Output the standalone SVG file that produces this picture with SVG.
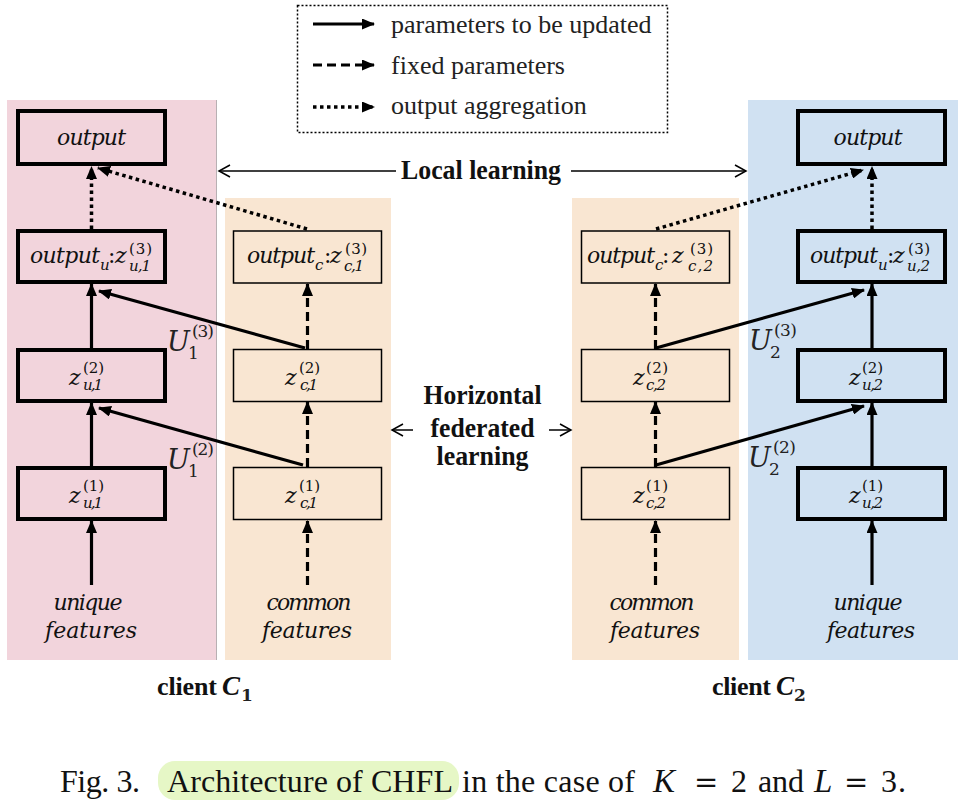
<svg xmlns="http://www.w3.org/2000/svg" width="962" height="811" viewBox="0 0 962 811">
<style>
.bg{stroke:none}
.thick{fill:none;stroke:#000;stroke-width:4}
.thin{fill:none;stroke:#000;stroke-width:1.5}
.m{font-family:"DejaVu Serif",serif;font-style:italic;font-size:22px;fill:#111}
.s{font-family:"DejaVu Serif",serif;font-style:italic;font-size:15px;fill:#111}
.sn{font-family:"DejaVu Serif",serif;font-size:15px;fill:#111}
.U{font-family:"DejaVu Serif",serif;font-style:italic;font-size:27px;fill:#222}
.Us{font-family:"DejaVu Serif",serif;font-size:17px;fill:#222}
.lg{font-family:"Liberation Serif",serif;font-size:26px;fill:#222}
.b{font-family:"Liberation Serif",serif;font-weight:bold;font-size:27px;fill:#111}
.cap{font-family:"Liberation Serif",serif;font-size:32px;fill:#111}
.capi{font-family:"Liberation Serif",serif;font-style:italic;font-size:33px;fill:#111}
.solid{fill:none;stroke:#000;stroke-width:3.2;marker-end:url(#ah)}
.dash{fill:none;stroke:#000;stroke-width:3.2;stroke-dasharray:9 5;marker-end:url(#ah)}
.dot{fill:none;stroke:#000;stroke-width:3.5;stroke-dasharray:3.5 3.5;marker-end:url(#ah)}
.open{fill:none;stroke:#000;stroke-width:1.5;marker-end:url(#oh)}
</style>
<defs>
<marker id="ah" markerUnits="userSpaceOnUse" markerWidth="13" markerHeight="11" refX="12" refY="5.5" orient="auto" viewBox="0 0 13 11">
<path d="M0,0 L13,5.5 L0,11 z" fill="#000"/>
</marker>
<marker id="oh" markerUnits="userSpaceOnUse" markerWidth="14" markerHeight="14" refX="12" refY="7" orient="auto" viewBox="0 0 14 14">
<path d="M1,1 L12,7 L1,13" fill="none" stroke="#000" stroke-width="1.5"/>
</marker>
</defs>
<rect width="962" height="811" fill="#fff"/>

<g id="panels">
<rect class="bg" x="7" y="100" width="209" height="560" fill="#f2d4dc"/>
<line x1="216.5" y1="100" x2="216.5" y2="660" stroke="#b8b0b3" stroke-width="1"/>
<rect class="bg" x="225" y="198" width="166" height="462" fill="#f9e6d2"/>
<rect class="bg" x="572" y="198" width="167" height="462" fill="#f9e6d2"/>
<rect class="bg" x="748" y="100" width="210" height="560" fill="#d0e1f2"/>
</g>

<g id="legend">
<rect x="297.5" y="5.5" width="370" height="127" fill="none" stroke="#000" stroke-width="1.5" stroke-dasharray="2 2"/>
<path class="solid" d="M313,24 L374,24"/>
<path class="dash" d="M313,65 L374,65"/>
<path class="dot" d="M313,107 L374,107"/>
<text class="lg" x="391" y="33">parameters to be updated</text>
<text class="lg" x="391" y="74">fixed parameters</text>
<text class="lg" x="391" y="114">output aggregation</text>
</g>

<g id="connectors">
<path class="dot" d="M91.5,229 L91.5,167"/>
<path class="dot" d="M307,229 L98,168"/>
<path class="solid" d="M91.5,349 L91.5,284"/>
<path class="solid" d="M305,348 L99,291"/>
<path class="dash" d="M307.5,349 L307.5,284"/>
<path class="solid" d="M91.5,467 L91.5,403"/>
<path class="solid" d="M303,465 L99,408"/>
<path class="dash" d="M307.5,467 L307.5,402"/>
<path class="solid" d="M91.5,585 L91.5,521"/>
<path class="dash" d="M307.5,585 L307.5,521"/>

<path class="dot" d="M872,229 L872,167"/>
<path class="dot" d="M656,229 L863,170"/>
<path class="solid" d="M872,349 L872,284"/>
<path class="solid" d="M656,348 L864,290"/>
<path class="dash" d="M655.5,349 L655.5,284"/>
<path class="solid" d="M872,467 L872,403"/>
<path class="solid" d="M656,465 L864,406"/>
<path class="dash" d="M655.5,467 L655.5,402"/>
<path class="solid" d="M872,585 L872,521"/>
<path class="dash" d="M655.5,585 L655.5,521"/>

<path class="open" d="M396,171 L219,171"/>
<path class="open" d="M571,171 L746,171"/>
<path class="open" d="M413,430 L392,430"/>
<path class="open" d="M549,430 L571,430"/>
</g>

<g id="out1">
<rect class="thick" x="18" y="111" width="147" height="53"/>
<text class="m" x="91.5" y="145" text-anchor="middle" textLength="69">output</text>
</g>
<g id="ou1">
<rect class="thick" x="18" y="231" width="147" height="51"/>
<text class="m" x="30" y="263" textLength="70">output</text>
<text class="s" x="100" y="270">u</text>
<text class="m" x="108" y="263" style="font-style:normal">:</text>
<text class="m" x="115" y="263">z</text>
<text class="sn" x="129" y="254" textLength="23">(3)</text>
<text class="s" x="129" y="271" textLength="22">u,1</text>
</g>
<g id="zu12">
<rect class="thick" x="18" y="350" width="147" height="51"/>
<text class="m" x="69" y="385">z</text>
<text class="sn" x="83" y="373" textLength="21">(2)</text>
<text class="s" x="83" y="390" textLength="20">u,1</text>
</g>
<g id="zu11">
<rect class="thick" x="18" y="468" width="147" height="51"/>
<text class="m" x="69" y="503">z</text>
<text class="sn" x="83" y="491" textLength="21">(1)</text>
<text class="s" x="83" y="508" textLength="20">u,1</text>
</g>
<g id="uf1">
<text class="m" x="88" y="610" text-anchor="middle" textLength="69">unique</text>
<text class="m" x="91" y="638" text-anchor="middle" textLength="92">features</text>
</g>

<g id="oc1">
<rect class="thin" x="233.5" y="231" width="148" height="52"/>
<text class="m" x="247" y="263" textLength="68">output</text>
<text class="s" x="315" y="270">c</text>
<text class="m" x="324" y="263" style="font-style:normal">:</text>
<text class="m" x="330" y="263">z</text>
<text class="sn" x="345" y="254" textLength="22">(3)</text>
<text class="s" x="344" y="271" textLength="20">c,1</text>
</g>
<g id="zc12">
<rect class="thin" x="233.5" y="349.5" width="148" height="52"/>
<text class="m" x="285" y="385">z</text>
<text class="sn" x="299" y="373" textLength="21">(2)</text>
<text class="s" x="300" y="390" textLength="18">c,1</text>
</g>
<g id="zc11">
<rect class="thin" x="233.5" y="467.5" width="148" height="52"/>
<text class="m" x="285" y="503">z</text>
<text class="sn" x="299" y="491" textLength="21">(1)</text>
<text class="s" x="300" y="508" textLength="18">c,1</text>
</g>
<g id="cf1">
<text class="m" x="309" y="610" text-anchor="middle" textLength="85">common</text>
<text class="m" x="307" y="638" text-anchor="middle" textLength="90">features</text>
</g>

<g id="U13">
<text class="U" x="167" y="351">U</text>
<text class="Us" x="192" y="337" textLength="22">(3)</text>
<text class="Us" x="188" y="359">1</text>
</g>
<g id="U12">
<text class="U" x="167" y="469">U</text>
<text class="Us" x="192" y="455" textLength="22">(2)</text>
<text class="Us" x="188" y="477">1</text>
</g>

<g id="oc2">
<rect class="thin" x="581.5" y="231" width="148" height="52"/>
<text class="m" x="587" y="263" textLength="68">output</text>
<text class="s" x="655" y="270">c</text>
<text class="m" x="662" y="263" style="font-style:normal">:</text>
<text class="m" x="672" y="263">z</text>
<text class="sn" x="690" y="254" textLength="23">(3)</text>
<text class="s" x="688" y="271" textLength="25">c,2</text>
</g>
<g id="zc22">
<rect class="thin" x="581.5" y="349.5" width="148" height="52"/>
<text class="m" x="633" y="385">z</text>
<text class="sn" x="646" y="373" textLength="22">(2)</text>
<text class="s" x="646" y="390" textLength="20">c,2</text>
</g>
<g id="zc21">
<rect class="thin" x="581.5" y="467.5" width="148" height="52"/>
<text class="m" x="633" y="503">z</text>
<text class="sn" x="646" y="491" textLength="22">(1)</text>
<text class="s" x="646" y="508" textLength="20">c,2</text>
</g>
<g id="cf2">
<text class="m" x="652" y="610" text-anchor="middle" textLength="85">common</text>
<text class="m" x="655" y="638" text-anchor="middle" textLength="90">features</text>
</g>

<g id="out2">
<rect class="thick" x="798" y="111" width="147" height="53"/>
<text class="m" x="868" y="145" text-anchor="middle" textLength="69">output</text>
</g>
<g id="ou2">
<rect class="thick" x="798" y="231" width="147" height="51"/>
<text class="m" x="810" y="263" textLength="68">output</text>
<text class="s" x="878" y="270">u</text>
<text class="m" x="887" y="263" style="font-style:normal">:</text>
<text class="m" x="893" y="263">z</text>
<text class="sn" x="908" y="254" textLength="22">(3)</text>
<text class="s" x="907" y="271" textLength="23">u,2</text>
</g>
<g id="zu22">
<rect class="thick" x="798" y="350" width="147" height="51"/>
<text class="m" x="849" y="385">z</text>
<text class="sn" x="862" y="373" textLength="21">(2)</text>
<text class="s" x="862" y="390" textLength="21">u,2</text>
</g>
<g id="zu21">
<rect class="thick" x="798" y="468" width="147" height="51"/>
<text class="m" x="849" y="503">z</text>
<text class="sn" x="862" y="491" textLength="21">(1)</text>
<text class="s" x="862" y="508" textLength="21">u,2</text>
</g>
<g id="uf2">
<text class="m" x="868" y="610" text-anchor="middle" textLength="69">unique</text>
<text class="m" x="871" y="638" text-anchor="middle" textLength="88">features</text>
</g>

<g id="U23">
<text class="U" x="749" y="350">U</text>
<text class="Us" x="774" y="336" textLength="23">(3)</text>
<text class="Us" x="770" y="358">2</text>
</g>
<g id="U22">
<text class="U" x="748" y="467">U</text>
<text class="Us" x="773" y="453" textLength="23">(2)</text>
<text class="Us" x="769" y="475">2</text>
</g>

<g id="local">
<text class="b" x="401" y="179" textLength="160" lengthAdjust="spacingAndGlyphs">Local learning</text>
</g>
<g id="hfl">
<text class="b" x="482.5" y="404" text-anchor="middle" textLength="118" lengthAdjust="spacingAndGlyphs">Horizontal</text>
<text class="b" x="482.5" y="437" text-anchor="middle" textLength="104" lengthAdjust="spacingAndGlyphs">federated</text>
<text class="b" x="482.5" y="465" text-anchor="middle" textLength="92" lengthAdjust="spacingAndGlyphs">learning</text>
</g>

<g id="client1">
<text class="b" x="157" y="695" style="font-size:26px" textLength="60">client</text>
<text class="b" x="222" y="695" style="font-size:27px;font-style:italic">C</text>
<text class="Us" x="241" y="701" style="font-weight:bold">1</text>
</g>
<g id="client2">
<text class="b" x="712" y="695" style="font-size:26px" textLength="59">client</text>
<text class="b" x="776" y="695" style="font-size:27px;font-style:italic">C</text>
<text class="Us" x="794" y="701" style="font-weight:bold">2</text>
</g>

<g id="caption">
<rect x="158" y="761" width="301" height="39" rx="17" fill="#e6f7c6"/>
<text class="cap" x="60" y="792" textLength="80">Fig. 3.</text>
<text class="cap" x="167" y="792" textLength="286">Architecture of CHFL</text>
<text class="cap" x="462" y="792" textLength="173">in the case of</text>
<text class="capi" x="653" y="792">K</text>
<text class="cap" x="694" y="792" style="font-family:'DejaVu Serif',serif;font-size:29px">=</text>
<text class="cap" x="731" y="792">2</text>
<text class="cap" x="758" y="792" textLength="46">and</text>
<text class="capi" x="814" y="792">L</text>
<text class="cap" x="844" y="792" style="font-family:'DejaVu Serif',serif;font-size:29px">=</text>
<text class="cap" x="881" y="792" textLength="25">3.</text>
</g>
</svg>
